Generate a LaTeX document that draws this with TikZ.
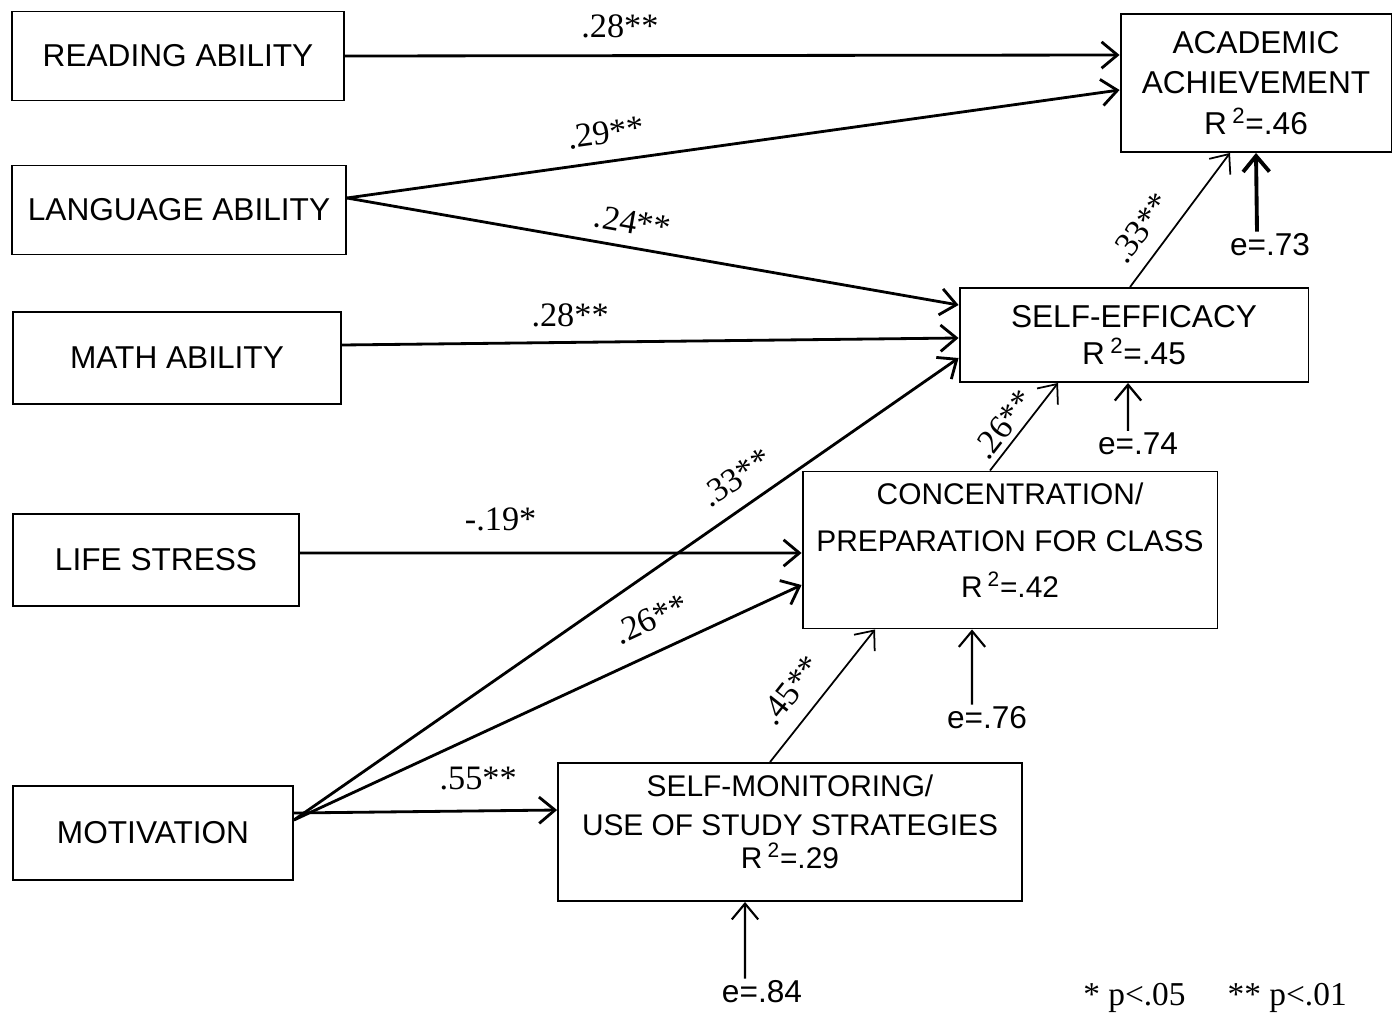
\documentclass[tikz,border=0pt]{standalone}
\usepackage{fontspec}
\setmainfont{Liberation Serif}
\newfontfamily\boxfont{Liberation Sans}
\usetikzlibrary{arrows.meta}
\tikzset{
Boite/.style={
 draw=black,
 line width=1.1pt,
 align=center,
 inner sep=0pt,
 font=\boxfont\fontsize{18}{23}\selectfont
 },
PetiteBoite/.style={
 Boite,
 font=\boxfont\fontsize{17}{22}\selectfont
 },
Fleche/.style={
 draw=black,
 line width=1.6pt,
 -{Straight Barb[length=9pt,width=15pt]}
 },
FineFleche/.style={
 Fleche,
 line width=1pt
 },
Coef/.style={
 inner sep=2pt,
 font=\fontsize{19.5}{21}\selectfont
 },
Erreur/.style={
 inner sep=1pt,
 font=\boxfont\fontsize{18}{20}\selectfont
 },
Note/.style={
 inner sep=0pt,
 font=\fontsize{19}{21}\selectfont
 }
}
\begin{document}
\begin{tikzpicture}[x=0.02cm,y=-0.02cm]
\useasboundingbox (0,0) rectangle (1393,1017);
% exogenous variables
\node[Boite, minimum width=6.64cm, minimum height=1.78cm] (read) at (178,56) {READING ABILITY};
\node[Boite, minimum width=6.68cm, minimum height=1.78cm] (lang) at (179,210) {LANGUAGE ABILITY};
\node[Boite, minimum width=6.56cm, minimum height=1.84cm] (math) at (177,358) {MATH ABILITY};
\node[Boite, minimum width=5.72cm, minimum height=1.84cm] (life) at (156,560) {LIFE STRESS};
\node[Boite, minimum width=5.60cm, minimum height=1.88cm] (motiv) at (153,833) {MOTIVATION};
% endogenous variables
\node[Boite, minimum width=5.42cm, minimum height=2.76cm] (acad) at (1256,83) {ACADEMIC\\ACHIEVEMENT\\R\,\textsuperscript{2}=.46};
\node[Boite, minimum width=6.98cm, minimum height=1.88cm] (selfeff) at (1134,335) {SELF-EFFICACY\\[-2pt]R\,\textsuperscript{2}=.45};
\node[PetiteBoite, minimum width=8.30cm, minimum height=3.14cm] (concent) at (1010,550) {CONCENTRATION/\\[5pt]PREPARATION FOR CLASS\\[4pt]R\,\textsuperscript{2}=.42\\[-17pt]\strut};
\node[PetiteBoite, minimum width=9.28cm, minimum height=2.76cm] (selfmon) at (790,832) {SELF-MONITORING/\\USE OF STUDY STRATEGIES\\[-3pt]R\,\textsuperscript{2}=.29\\[-17pt]\strut};
% residuals
\node[Erreur] (eAcad) at (1270,245) {e=.73};
\node[Erreur] (eSelf) at (1138,444) {e=.74};
\node[Erreur] (eConc) at (987,718) {e=.76};
\node[Erreur] (eMon) at (762,992) {e=.84};
% paths
\draw[Fleche] (read.east) -- ([yshift=0.56cm]acad.west) node[Coef, pos=0.355, above=7pt] (c1) {.28**};
\draw[Fleche] ([yshift=0.24cm]lang.east) -- ([yshift=-0.14cm]acad.west) node[Coef, sloped, pos=0.34, above=7pt] (c2) {.29**};
\draw[Fleche] ([yshift=0.24cm]lang.east) -- ([yshift=0.6cm]selfeff.west) node[Coef, sloped, pos=0.46, above=5pt] (c3) {.24**};
\draw[Fleche] ([yshift=0.26cm]math.east) -- ([yshift=-0.06cm]selfeff.west) node[Coef, pos=0.37, above=6pt] (c4) {.28**};
\draw[Fleche] ([yshift=0.14cm]life.east) -- ([yshift=-0.06cm]concent.west) node[Coef, pos=0.4, above=10pt] (c5) {-.19*};
\draw[Fleche] ([yshift=0.26cm]motiv.east) -- ([yshift=-0.46cm]selfeff.west) node[Coef, sloped, pos=0.69, above=7pt] (c6) {.33**};
\draw[Fleche] ([yshift=0.26cm]motiv.east) -- ([yshift=-0.7cm]concent.west) node[Coef, sloped, pos=0.73, above=9pt] (c7) {.26**};
\draw[Fleche] ([yshift=0.4cm]motiv.east) -- ([yshift=0.44cm]selfmon.west) node[Coef, pos=0.7, above=9pt] (c8) {.55**};
\draw[FineFleche] ([xshift=-0.08cm]selfeff.north) -- ([xshift=-0.52cm]acad.south) node[Coef, sloped, pos=0.32, above=6pt] (c9) {.33**};
\draw[FineFleche] ([xshift=-0.4cm]concent.north) -- ([xshift=-1.52cm]selfeff.south) node[Coef, sloped, pos=0.4, above=1pt] (c10) {.26**};
\draw[FineFleche] ([xshift=-0.4cm]selfmon.north) -- ([xshift=-2.7cm]concent.south) node[Coef, sloped, pos=0.41, above=7pt] (c11) {.45**};
% residual arrows
\draw[Fleche, line width=2.2pt] ([xshift=-0.26cm]eAcad.north) -- (acad.south);
\draw[Fleche, line width=1.3pt] ([xshift=-0.2cm]eSelf.north) -- ([xshift=-0.12cm]selfeff.south);
\draw[Fleche, line width=1.2pt] ([xshift=-0.3cm]eConc.north) -- ([xshift=-0.76cm]concent.south);
\draw[Fleche, line width=1.2pt] ([xshift=-0.34cm]eMon.north) -- ([xshift=-0.9cm]selfmon.south);
% significance
\node[Note] (legend) at (1215,998) {* p<.05\hspace{24pt}** p<.01};
\end{tikzpicture}
\end{document}
